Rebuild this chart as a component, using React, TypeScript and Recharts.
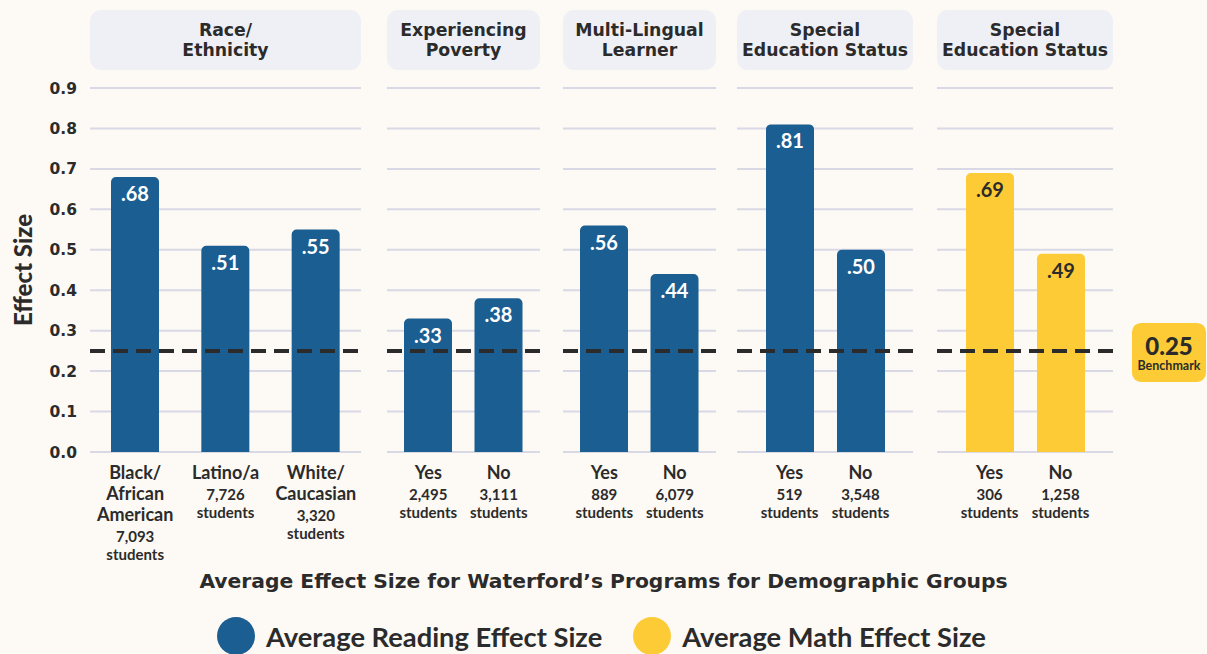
import React from 'react';
import { BarChart, Bar, XAxis, YAxis, CartesianGrid, ReferenceLine, LabelList } from 'recharts';

const READING_BLUE = '#1b5e92';
const MATH_YELLOW = '#fdcb35';
const INK = '#2b2b2b';
const BG = '#fdf9f4';

const panelHeaders = [
  ['Race/', 'Ethnicity'],
  ['Experiencing', 'Poverty'],
  ['Multi-Lingual', 'Learner'],
  ['Special', 'Education Status'],
  ['Special', 'Education Status'],
];

const raceLabels = [['Black/', 'African', 'American'], ['Latino/a'], ['White/', 'Caucasian']];
const raceEffect = [0.68, 0.51, 0.55];
const raceStudents = ['7,093', '7,726', '3,320'];

const yesNoLabels = [['Yes'], ['No']];
const povertyEffect = [0.33, 0.38];
const povertyStudents = ['2,495', '3,111'];
const multiLingualEffect = [0.56, 0.44];
const multiLingualStudents = ['889', '6,079'];
const spedReadingEffect = [0.81, 0.5];
const spedReadingStudents = ['519', '3,548'];
const spedMathEffect = [0.69, 0.49];
const spedMathStudents = ['306', '1,258'];

const yTicks = [0, 0.1, 0.2, 0.3, 0.4, 0.5, 0.6, 0.7, 0.8, 0.9];
const benchmark = 0.25;
const chartTitle = 'Average Effect Size for Waterford’s Programs for Demographic Groups';
const legendItems = [
  { name: 'Average Reading Effect Size', color: READING_BLUE },
  { name: 'Average Math Effect Size', color: MATH_YELLOW },
];

type Row = { name: string; lines: string[]; value: number; students: string };

const makeRows = (labels: string[][], values: number[], students: string[]): Row[] =>
  labels.map((lines, i) => ({ name: lines.join(' '), lines, value: values[i], students: students[i] }));

// layout of the five panels (plot area x start / width, inner padding)
const panels = [
  { left: 90, width: 271, pad: 0, rows: makeRows(raceLabels, raceEffect, raceStudents), math: false },
  { left: 387, width: 153, pad: 6, rows: makeRows(yesNoLabels, povertyEffect, povertyStudents), math: false },
  { left: 563, width: 153, pad: 6, rows: makeRows(yesNoLabels, multiLingualEffect, multiLingualStudents), math: false },
  { left: 737, width: 176, pad: 17, rows: makeRows(yesNoLabels, spedReadingEffect, spedReadingStudents), math: false },
  { left: 937, width: 176, pad: 17, rows: makeRows(yesNoLabels, spedMathEffect, spedMathStudents), math: true },
];

const PAGE_W = 1207;
const CHART_H = 570;
const PLOT_TOP = 88;
const XAXIS_H = 118;

const fmt = (v: number) => v.toFixed(2).replace(/^0/, '');

const XTick = ({ x, y, payload, rows }: any) => {
  const row: Row | undefined = rows.find((r: Row) => r.name === payload.value);
  if (!row) return null;
  const base = y + 27;
  const countY = base + 21 * row.lines.length;
  return (
    <g>
      {row.lines.map((line, i) => (
        <text key={i} x={x} y={base + 21 * i} textAnchor="middle" fontFamily="Lato" fontWeight={700} fontSize={18} fill={INK}>
          {line}
        </text>
      ))}
      <text x={x} y={countY} textAnchor="middle" fontFamily="Lato" fontWeight={700} fontSize={15} fill={INK}>
        {row.students}
      </text>
      <text x={x} y={countY + 17.5} textAnchor="middle" fontFamily="Lato" fontWeight={700} fontSize={15} fill={INK}>
        students
      </text>
    </g>
  );
};

const BenchmarkLabel = ({ viewBox }: any) => {
  if (!viewBox) return null;
  const x0 = viewBox.x + viewBox.width + 19;
  const y0 = viewBox.y;
  return (
    <g>
      <rect x={x0} y={y0 - 28} width={74} height={59} rx={9} fill={MATH_YELLOW} />
      <text x={x0 + 37} y={y0 + 4} textAnchor="middle" fontFamily="Lato" fontWeight={900} fontSize={24} fill={INK}>
        {benchmark.toFixed(2)}
      </text>
      <text x={x0 + 37} y={y0 + 19} textAnchor="middle" fontFamily="Lato" fontWeight={700} fontSize={12.5} fill={INK}>
        Benchmark
      </text>
    </g>
  );
};

const YLabel = ({ viewBox }: any) => {
  if (!viewBox) return null;
  const cx = 22;
  const cy = viewBox.y + viewBox.height / 2;
  return (
    <text x={cx} y={cy} transform={`rotate(-90, ${cx}, ${cy})`} textAnchor="middle" dominantBaseline="central"
      fontFamily="Lato" fontWeight={900} fontSize={24} fill={INK}>
      Effect Size
    </text>
  );
};

const PanelChart = ({ idx }: { idx: number }) => {
  const p = panels[idx];
  const first = idx === 0;
  const last = idx === panels.length - 1;
  const axisW = first ? p.left : 0;
  const rightExtra = last ? PAGE_W - (p.left + p.width) : 0;
  const width = axisW + p.width + rightExtra;
  const color = p.math ? MATH_YELLOW : READING_BLUE;
  const labelColor = p.math ? INK : '#ffffff';

  return (
    <div style={{ position: 'absolute', left: first ? 0 : p.left, top: 0 }}>
      <BarChart width={width} height={CHART_H} data={p.rows} margin={{ top: PLOT_TOP, right: rightExtra, left: 0, bottom: 0 }}>
        <CartesianGrid vertical={false} stroke="#d9d9e6" strokeWidth={2} />
        <XAxis
          dataKey="name"
          height={XAXIS_H}
          axisLine={false}
          tickLine={false}
          tickSize={0}
          tickMargin={0}
          interval={0}
          padding={{ left: p.pad, right: p.pad }}
          tick={<XTick rows={p.rows} />}
        />
        <YAxis
          hide={!first}
          width={axisW}
          domain={[0, 0.9]}
          ticks={yTicks}
          interval={0}
          axisLine={false}
          tickLine={false}
          tickSize={0}
          tickMargin={13}
          tickFormatter={(v: number) => v.toFixed(1)}
          tick={{ fontFamily: 'DejaVu Sans', fontWeight: 700, fontSize: 15.5, fill: INK }}
          label={first ? <YLabel /> : undefined}
        />
        <Bar dataKey="value" fill={color} barSize={48} radius={[5, 5, 0, 0]} isAnimationActive={false}>
          <LabelList
            dataKey="value"
            content={({ x, y, width: w, value }: any) => (
              <text x={Number(x) + Number(w) / 2} y={Number(y) + 24} textAnchor="middle" fontFamily="Lato"
                fontWeight={700} fontSize={20} fill={labelColor}>
                {fmt(Number(value))}
              </text>
            )}
          />
        </Bar>
        <ReferenceLine
          y={benchmark}
          stroke={INK}
          strokeWidth={4}
          strokeDasharray="15 8"
          label={last ? <BenchmarkLabel /> : undefined}
        />
      </BarChart>
    </div>
  );
};

export default function App() {
  return (
    <div style={{ position: 'absolute', left: 0, top: 0, width: PAGE_W, height: 654, background: BG, overflow: 'hidden' }}>
      {panels.map((p, i) => (
        <div
          key={`h${i}`}
          style={{
            position: 'absolute', left: p.left, top: 10, width: p.width, height: 60, borderRadius: 11,
            background: '#eff0f6', display: 'flex', flexDirection: 'column', justifyContent: 'center',
            alignItems: 'center', fontFamily: 'DejaVu Sans', fontWeight: 700, fontSize: 17.3, lineHeight: '20px',
            color: INK, textAlign: 'center', whiteSpace: 'nowrap',
          }}
        >
          {panelHeaders[i].map((l, j) => <div key={j}>{l}</div>)}
        </div>
      ))}
      {panels.map((_, i) => <PanelChart key={i} idx={i} />)}
      <div
        style={{
          position: 'absolute', left: 0, top: 567, width: PAGE_W, textAlign: 'center',
          fontFamily: 'DejaVu Sans', fontWeight: 700, fontSize: 20.3, color: INK, lineHeight: '28px',
        }}
      >
        {chartTitle}
      </div>
      <div style={{ position: 'absolute', left: 217, top: 617, display: 'flex', alignItems: 'center', height: 38 }}>
        {legendItems.map((item, i) => (
          <div key={i} style={{ display: 'flex', alignItems: 'center', marginRight: i === 0 ? 31 : 0 }}>
            <div style={{ width: 38, height: 38, borderRadius: 19, background: item.color, marginRight: 11 }} />
            <span style={{ fontFamily: 'Lato', fontWeight: 700, fontSize: 27.3, color: INK }}>{item.name}</span>
          </div>
        ))}
      </div>
    </div>
  );
}
